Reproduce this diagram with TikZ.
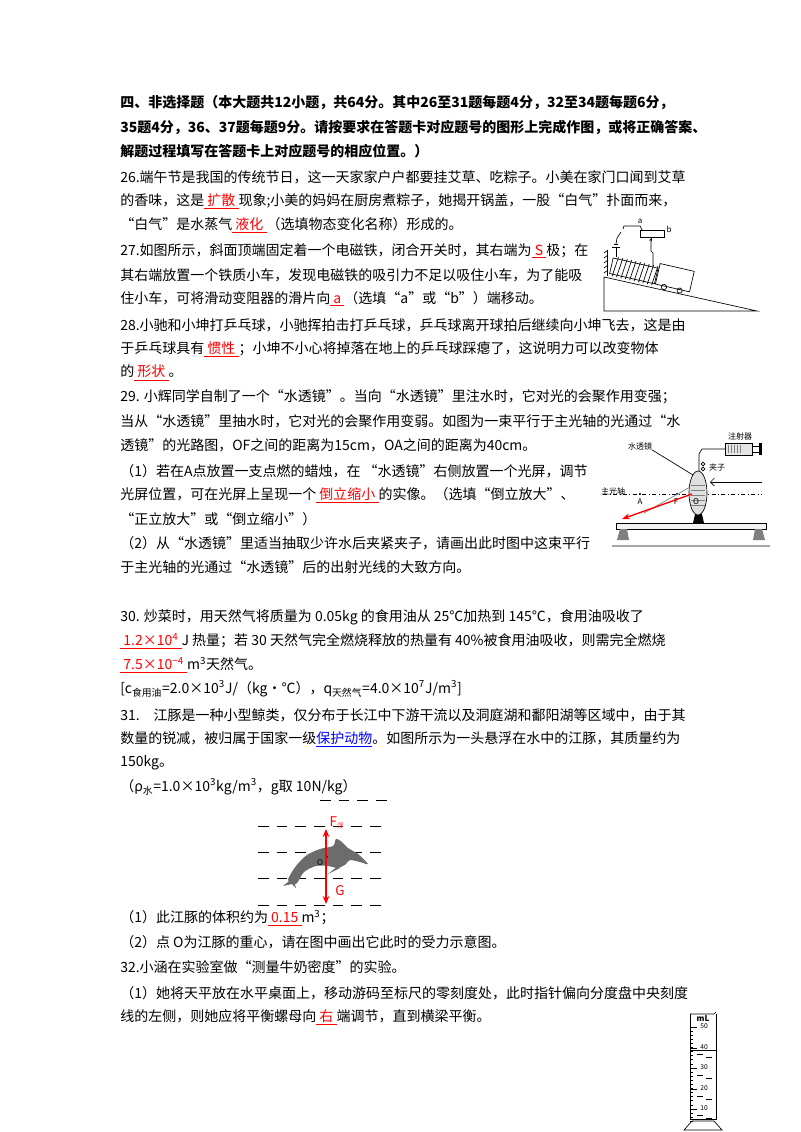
\documentclass[tikz,border=0pt]{standalone}
\usepackage{fontspec}
\setmainfont{Noto Sans CJK SC}
\usetikzlibrary{arrows.meta}
\newcommand{\ans}[1]{\textcolor{red}{\underline{\ #1\ }}}
\begin{document}
\begin{tikzpicture}[x=0.75pt,y=-0.75pt,
  T/.style={anchor=west,inner sep=0pt,font=\fontsize{10.5pt}{12pt}\selectfont},
  S/.style={inner sep=0pt,font=\fontsize{6pt}{7pt}\selectfont},
  thin line/.style={line width=0.5pt}]
\useasboundingbox (0,0) rectangle (800,1132);
\fill[white] (0,0) rectangle (800,1132);
% ---- text lines
\node[T,font=\fontsize{10.5pt}{12pt}\selectfont\bfseries] (l1) at (120,103) {四、非选择题（本大题共12小题，共64分。其中26至31题每题4分，32至34题每题6分，};
\node[T,font=\fontsize{10.5pt}{12pt}\selectfont\bfseries] (l2) at (120,127) {35题4分，36、37题每题9分。请按要求在答题卡对应题号的图形上完成作图，或将正确答案、};
\node[T,font=\fontsize{10.5pt}{12pt}\selectfont\bfseries] (l3) at (120,151) {解题过程填写在答题卡上对应题号的相应位置。）};
\node[T] (l4) at (120,177) {26.端午节是我国的传统节日，这一天家家户户都要挂艾草、吃粽子。小美在家门口闻到艾草};
\node[T] (l5) at (120,201) {的香味，这是\ans{扩散}现象;小美的妈妈在厨房煮粽子，她揭开锅盖，一股“白气”扑面而来，};
\node[T] (l6) at (120,225) {“白气”是水蒸气\ans{液化}（选填物态变化名称）形成的。};
\node[T] (l7) at (120,251) {27.如图所示，斜面顶端固定着一个电磁铁，闭合开关时，其右端为\ans{S}极；在};
\node[T] (l8) at (120,275) {其右端放置一个铁质小车，发现电磁铁的吸引力不足以吸住小车，为了能吸};
\node[T] (l9) at (120,299) {住小车，可将滑动变阻器的滑片向\ans{a}（选填“\textit{a}”或“\textit{b}”）端移动。};
\node[T] (l10) at (120,325) {28.小驰和小坤打乒乓球，小驰挥拍击打乒乓球，乒乓球离开球拍后继续向小坤飞去，这是由};
\node[T] (l11) at (120,349) {于乒乓球具有\ans{惯性}；小坤不小心将掉落在地上的乒乓球踩瘪了，这说明力可以改变物体};
\node[T] (l12) at (120,373) {的\ans{形状}。};
\node[T] (l13) at (120,397) {29. 小辉同学自制了一个“水透镜”。当向“水透镜”里注水时，它对光的会聚作用变强；};
\node[T] (l14) at (120,421) {当从“水透镜”里抽水时，它对光的会聚作用变弱。如图为一束平行于主光轴的光通过“水};
\node[T] (l15) at (120,445) {透镜”的光路图，\textit{OF}之间的距离为15cm，\textit{OA}之间的距离为40cm。};
\node[T] (l16) at (120,471) {（1）若在\textit{A}点放置一支点燃的蜡烛，在 “水透镜”右侧放置一个光屏，调节};
\node[T] (l17) at (120,495) {光屏位置，可在光屏上呈现一个\ans{倒立缩小}的实像。（选填“倒立放大”、};
\node[T] (l18) at (120,519) {“正立放大”或“倒立缩小”）};
\node[T] (l19) at (120,543) {（2）从“水透镜”里适当抽取少许水后夹紧夹子，请画出此时图中这束平行};
\node[T] (l20) at (120,567) {于主光轴的光通过“水透镜”后的出射光线的大致方向。};
\node[T] (l21) at (120,617) {30. 炒菜时，用天然气将质量为 0.05kg 的食用油从 25℃加热到 145℃，食用油吸收了};
\node[T] (l22) at (120,641) {\ans{1.2×10\textsuperscript{4}}J 热量；若 30 天然气完全燃烧释放的热量有 40\%被食用油吸收，则需完全燃烧};
\node[T] (l23) at (120,665) {\ans{7.5×10\textsuperscript{−4}}m\textsuperscript{3}天然气。};
\node[T] (l24) at (120,689) {[\textit{c}\textsubscript{食用油}=2.0×10\textsuperscript{3}J/（kg・℃），\textit{q}\textsubscript{天然气}=4.0×10\textsuperscript{7}J/m\textsuperscript{3}]};
\node[T] (l25) at (120,715) {31.　江豚是一种小型鲸类，仅分布于长江中下游干流以及洞庭湖和鄱阳湖等区域中，由于其};
\node[T] (l26) at (120,739) {数量的锐减，被归属于国家一级\textcolor{blue}{\underline{保护动物}}。如图所示为一头悬浮在水中的江豚，其质量约为};
\node[T] (l27) at (120,763) {150kg。};
\node[T] (l28) at (120,787) {（\textit{ρ}\textsubscript{水}=1.0×10\textsuperscript{3}kg/m\textsuperscript{3}，\textit{g}取 10N/kg）};
\node[T] (l29) at (120,918) {（1）此江豚的体积约为\ans{0.15}m\textsuperscript{3}；};
\node[T] (l30) at (120,942) {（2）点 \textit{O}为江豚的重心，请在图中画出它此时的受力示意图。};
\node[T] (l31) at (120,967) {32.小涵在实验室做“测量牛奶密度”的实验。};
\node[T] (l32) at (120,993) {（1）她将天平放在水平桌面上，移动游码至标尺的零刻度处，此时指针偏向分度盘中央刻度};
\node[T] (l33) at (120,1017) {线的左侧，则她应将平衡螺母向\ans{右}端调节，直到横梁平衡。};
% ---- figure 27: incline with electromagnet
\draw[thin line] (604,277) -- (604,311) -- (757,311) -- cycle;
\foreach \yy in {253,258,...,273} \draw[thin line] (604,\yy) -- (608,\yy-3);
\draw[thin line] (607,251) -- (607,276);
\begin{scope}[shift={(607,276)},rotate=-12.9]
  \draw[thin line] (2,-3) rectangle (48,-19);
  \foreach \xx in {5,9.5,...,46} \draw[thin line] (\xx,-1) -- (\xx+2,-21);
  \draw[thin line] (49,-3) rectangle (84,-24);
  \draw[thin line] (58,-2) circle (2.6);
  \draw[thin line] (74,-2) circle (2.6);
\end{scope}
\coordinate (sw1) at (616,257);
\coordinate (sw2) at (617,238);
\draw[thin line] (sw1) -- (616,247);
\draw[thin line] (612,247) -- (620,247) (614,244) -- (618,244);
\draw[thin line] (616,244) -- (sw2) -- (621,232);
\draw[thin line] (623,229) -- (624,226) -- (640,226) -- (642,230);
\draw[thin line] (640,230) rectangle (664,237);
\node[S,font=\fontsize{6pt}{7pt}\selectfont\itshape] (ra) at (640,221) {a};
\node[S,font=\fontsize{6pt}{7pt}\selectfont\itshape] (rb) at (669,229) {b};
\draw[thin line,-{Stealth[length=3pt]}] (653,266) -- (653,253) -- (651,251) -- (651,240) -- (652,237.5);
% ---- figure 29: water lens
\draw[dash dot,thin line] (603,494) -- (762,494);
\node[S] (zgz) at (613,491) {主光轴};
\fill (640,494) circle (1.2);
\fill (677,494) circle (1.2);
\node[S,font=\fontsize{6pt}{7pt}\selectfont\itshape] (pA) at (640,502) {A};
\node[S,font=\fontsize{6pt}{7pt}\selectfont\itshape] (pF) at (676,502) {F};
\fill[black] (693,523) -- (696,510) -- (701,510) -- (704,523) -- cycle;
\draw[thin line,fill=gray!25] (698,493) ellipse (9 and 22);
\foreach \yy in {485,490,...,505} \draw[gray] (691,\yy) -- (705,\yy);
\node[S,font=\fontsize{6pt}{7pt}\selectfont\itshape] (pO) at (696,502) {O};
\draw[thin line,fill=gray!10] (616,523) rectangle (766,529);
\fill[gray] (617,540) -- (620,529) -- (627,529) -- (629,540) -- cycle;
\fill[gray] (753,540) -- (755,529) -- (762,529) -- (765,540) -- cycle;
\draw[gray!70,line width=1.5pt] (612,546) -- (770,546);
\draw[thin line,fill=gray!20] (725,443) rectangle (752,455);
\foreach \xx in {728,731,...,740} \draw[gray] (\xx,445) -- (\xx,453);
\draw[thin line] (752,446) -- (760,446) (752,452) -- (760,452);
\fill (759,443) rectangle (762,455);
\draw[thin line] (725,449) -- (702,449) -- (699,454) -- (699,471);
\draw[thin line] (703,464) circle (1.8) (703,469) circle (1.8);
\node[S] (jz) at (717,467) {夹子};
\node[S] (sj) at (640,446) {水透镜};
\node[S] (zsq) at (740,436) {注射器};
\draw[thin line] (sj.south east) -- (693,475);
\draw[thin line,-{Straight Barb[length=3pt]}] (762,482) -- (710,482);
\draw[gray,thin line] (690,487) -- (644,513);
\draw[red,line width=1pt,-{Stealth[length=6pt]}] (692,494) -- (622,519);
% ---- figure 31: dolphin
\foreach \yy in {826,852,878,905} \draw[dashed,dash pattern=on 8pt off 6pt,thin line] (258,\yy) -- (388,\yy);
\draw[dashed,dash pattern=on 8pt off 6pt,thin line] (320,800) -- (388,800);
\fill[gray!85!black] plot[smooth cycle] coordinates {(288,880)(296,866)(307,855)(320,849)(333,846)(336,839)(342,842)(348,848)(358,854)(368,864)(360,862)(350,860)(346,864)(338,868)(328,866)(316,866)(304,872)(296,884)};
\fill[gray!85!black] (293,878) -- (283,886) -- (292,884) -- (296,888) -- cycle;
\fill[gray!85!black] (338,866) -- (328,874) -- (340,868) -- cycle;
\fill (327,857) circle (1.2);
\node[S,font=\fontsize{6pt}{7pt}\selectfont\itshape] (dO) at (320,863) {O};
\coordinate (fo) at (326,857);
\coordinate (ft) at (326,829);
\coordinate (fb) at (326,904);
\draw[red,line width=1pt,-{Stealth[length=6pt,width=5pt]}] (fo) -- (ft);
\draw[red,line width=1pt,-{Stealth[length=6pt,width=5pt]}] (fo) -- (fb);
\node[inner sep=0pt,text=red,font=\fontsize{10pt}{11pt}\selectfont] (lF) at (337,823) {F\textsubscript{\tiny 浮}};
\node[inner sep=0pt,text=red,font=\fontsize{10pt}{11pt}\selectfont] (lG) at (340,891) {G};
% ---- figure 32: cylinder
\draw[thin line] (690,1014) -- (690,1119) -- (716,1119) -- (716,1014);
\draw[thin line] (690,1014) -- (714,1014) -- (716,1012);
\draw[thin line] (690,1050) -- (716,1050);
\node[inner sep=0pt,font=\fontsize{6pt}{7pt}\selectfont\bfseries] (ml) at (703,1019) {mL};
\foreach \i in {0,...,23} \draw[thin line] (690,{1027+\i*4.1}) -- (693,{1027+\i*4.1});
\foreach \v/\yy in {50/1027,40/1048,30/1068,20/1089,10/1109}{
  \draw[thin line] (690,\yy) -- (697,\yy);
  \node[inner sep=0pt,font=\fontsize{5pt}{6pt}\selectfont] at (704,\yy-1) {\v};}
\foreach \yy in {1054,1075,1096,1115} \draw[thin line] (697,\yy) -- (703,\yy) (706,\yy+3) -- (712,\yy+3);
\draw[thin line] (684,1130) -- (692,1121) -- (714,1121) -- (722,1130) -- cycle;
\end{tikzpicture}
\end{document}
